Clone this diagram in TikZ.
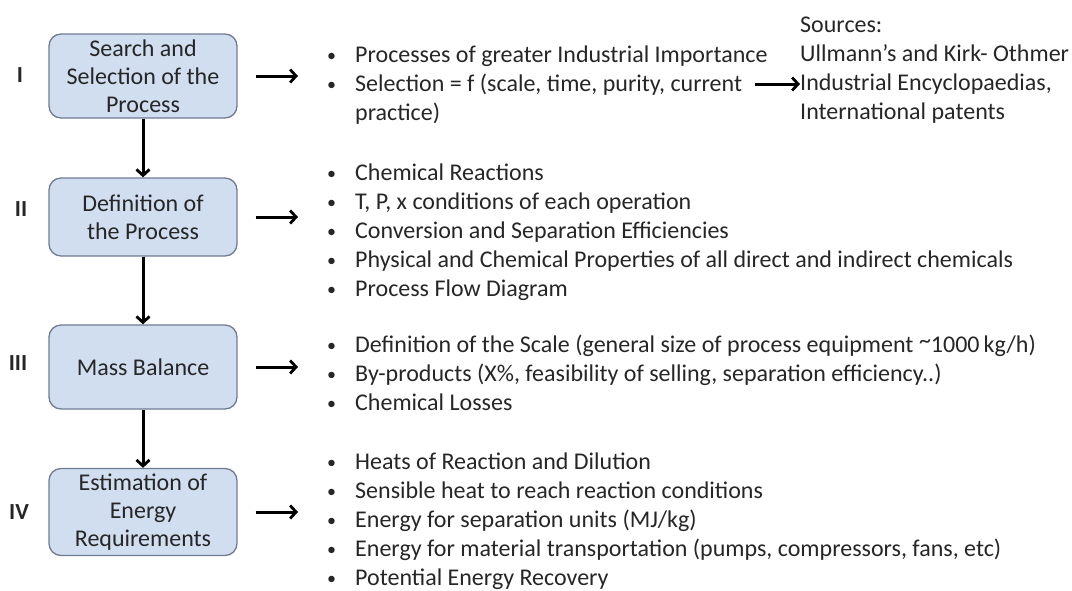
\documentclass[tikz,border=0pt]{standalone}
\usepackage{fontspec}
\setmainfont{Carlito}
\usetikzlibrary{arrows.meta,positioning}
\definecolor{boxfill}{RGB}{208,222,240}
\definecolor{boxedge}{RGB}{112,124,146}
\definecolor{textgrey}{RGB}{38,38,38}
\newcommand{\bul}{\makebox[28pt][l]{\raisebox{0.1ex}{\scalebox{0.75}{\textbullet}}}}
\newcommand{\hang}{\hspace*{28pt}}

\begin{document}
\begin{tikzpicture}[x=1pt, y=-1pt,
    stagebox/.style={draw=boxedge, line width=1.3pt, rounded corners=12pt, fill=boxfill, minimum width=188pt, minimum height=84pt, align=center, text=textgrey, font=\fontsize{24}{28}\selectfont, inner sep=1pt},
    itemlist/.style={anchor=west, align=left, text=textgrey, font=\fontsize{24}{29}\selectfont, inner sep=0pt},
    roman/.style={text=textgrey, font=\fontsize{23}{24}\selectfont\bfseries},
    flow/.style={-{Straight Barb[length=6pt, width=13pt, line width=2.8pt]}, line width=3pt, black}]
    \useasboundingbox (0,0) rectangle (1072,590);

    % stages
    \node[stagebox] (s1) at (143,76) {Search and\\Selection of the\\Process};
    \node[stagebox, minimum height=78pt] (s2) at (143,217) {Definition of\\the Process};
    \node[stagebox] (s3) at (143,367) {Mass Balance};
    \node[stagebox, minimum height=87pt] (s4) at (143,512) {Estimation of\\Energy\\Requirements};

    \node[roman] (r1) at (20,75) {I};
    \node[roman] (r2) at (21,209) {II};
    \node[roman] (r3) at (18,363) {III};
    \node[roman] (r4) at (19,512) {IV};

    % details
    \node[itemlist] (l1) at (327,85) {\bul Processes of greater Industrial Importance\\\bul Selection = f (scale, time, purity, current\\\hang practice)};
    \node[itemlist] (l2) at (327,232) {\bul Chemical Reactions\\\bul T, P, x conditions of each operation\\\bul Conversion and Separation Efficiencies\\\bul Physical and Chemical Properties of all direct and indirect chemicals\\\bul Process Flow Diagram};
    \node[itemlist] (l3) at (327,373) {\bul Definition of the Scale (general size of process equipment {\raisebox{0.35ex}{\~{}}}1000\,kg/h)\\\bul By-products (X\%, feasibility of selling, separation efficiency..)\\\bul Chemical Losses};
    \node[itemlist] (l4) at (327,521) {\bul Heats of Reaction and Dilution\\\bul Sensible heat to reach reaction conditions\\\bul Energy for separation units (MJ/kg)\\\bul Energy for material transportation (pumps, compressors, fans, etc)\\\bul Potential Energy Recovery};
    \node[itemlist] (src) at (800,70) {Sources:\\Ullmann’s and Kirk- Othmer\\Industrial Encyclopaedias,\\International patents};

    \draw[flow] (s1) -- (s2);
    \draw[flow] (s2) -- (s3);
    \draw[flow] (s3) -- (s4);
    \foreach \s/\l in {s1/l1, s2/l2, s3/l3, s4/l4}
        \draw[flow, shorten <=18pt, shorten >=29pt] (\s.east) -- (\s.east -| \l.west);

    \coordinate (srcin) at (755,84);
    \draw[flow] (srcin) -- (srcin -| src.west);
\end{tikzpicture}
\end{document}
